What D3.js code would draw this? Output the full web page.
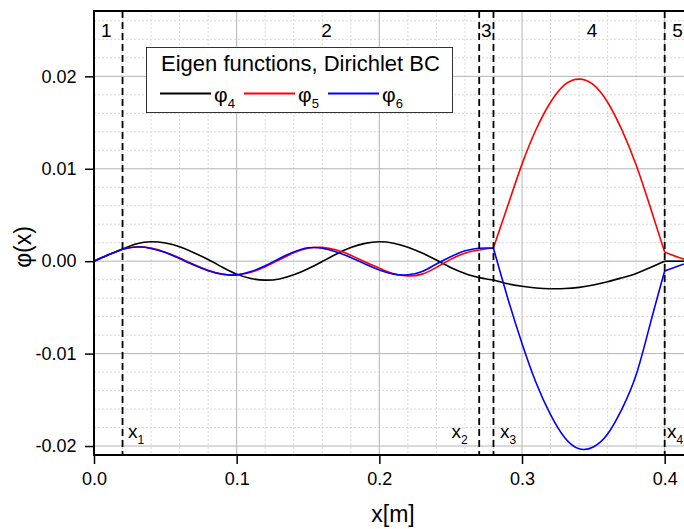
<!DOCTYPE html>
<html>
<head>
<meta charset="utf-8">
<script src="https://cdn.jsdelivr.net/npm/d3@7"></script>
<style>
  body { margin: 0; background: #fff; }
  svg { display: block; font-family: "Liberation Sans", Arial, sans-serif; }
</style>
</head>
<body>
<svg id="chart" width="684" height="529"></svg>
<script>
// sample positions along x [m]
const xs = [0, 0.01, 0.02, 0.03, 0.04, 0.05, 0.06, 0.07, 0.08, 0.09,
  0.10, 0.11, 0.12, 0.13, 0.14, 0.15, 0.16, 0.17, 0.18, 0.19,
  0.20, 0.21, 0.22, 0.23, 0.24, 0.25, 0.26, 0.27, 0.275, 0.28,
  0.29, 0.30, 0.31, 0.32, 0.33, 0.34, 0.35, 0.36, 0.37, 0.38,
  0.39, 0.40, 0.41, 0.42];

// eigen functions
const phi4 = [0, 0.00068, 0.00132, 0.00188, 0.00210, 0.00196, 0.00155, 0.00092, 0.00018, -0.00065,
  -0.00140, -0.00188, -0.00205, -0.00192, -0.00148, -0.00082, -0.00003, 0.00078, 0.00147, 0.00193,
  0.00210, 0.00195, 0.00152, 0.00088, 0.00012, -0.00068, -0.00132, -0.00178, -0.00192, -0.00203,
  -0.00245, -0.00272, -0.00290, -0.00298, -0.00296, -0.00283, -0.00258, -0.00222, -0.00180, -0.00133,
  -0.00068, 0.00000, 0.00000, 0.00000];

const phi5 = [0, 0.00070, 0.00130, 0.00156, 0.00141, 0.00098, 0.00035, -0.00035, -0.00098, -0.00140,
  -0.00149, -0.00120, -0.00060, 0.00016, 0.00090, 0.00140, 0.00149, 0.00120, 0.00065, -0.00008,
  -0.00075, -0.00136, -0.00160, -0.00140, -0.00067, 0.00020, 0.00087, 0.00121, 0.00134, 0.00146,
  0.0060, 0.0105, 0.0143, 0.0172, 0.0191, 0.0197, 0.0191, 0.0172, 0.0142, 0.0104,
  0.0058, 0.00096, 0.00040, -0.00010];

const phi6 = [0, 0.00070, 0.00130, 0.00153, 0.00138, 0.00093, 0.00028, -0.00042, -0.00103, -0.00142,
  -0.00148, -0.00112, -0.00050, 0.00030, 0.00100, 0.00145, 0.00140, 0.00100, 0.00040, -0.00030,
  -0.00095, -0.00140, -0.00148, -0.00112, -0.00030, 0.00048, 0.00112, 0.00140, 0.00142, 0.00140,
  -0.0040, -0.0089, -0.0132, -0.0166, -0.0191, -0.0203, -0.0201, -0.0187, -0.0160, -0.0123,
  -0.0067, -0.00106, -0.00050, 0.00005];

const seriesNames = ["4", "5", "6"];
const seriesColors = ["#000000", "#ff0000", "#0000ff"];

// layer interfaces x1..x4 and region numbers
const interfaces = [0.02, 0.27, 0.28, 0.40];
const interfaceNames = ["1", "2", "3", "4"];
const interfaceLabelX = [0.0238, 0.2505, 0.2846, 0.4016];
const regionNames = ["1", "2", "3", "4", "5"];
const regionLabelX = [0.0087, 0.163, 0.275, 0.349, 0.409];

const xMajor = [0, 0.1, 0.2, 0.3, 0.4];
const yMajor = [-0.02, -0.01, 0, 0.01, 0.02];

const svg = d3.select("#chart");
const plotLeft = 94, plotTop = 11, plotBottom = 455, plotRight = 684;

const x = d3.scaleLinear().domain([0, 0.42]).range([plotLeft, plotLeft + 0.42 * 1426.7]);
const y = d3.scaleLinear().domain([-0.02097, 0.02707]).range([plotBottom, plotTop]);

const xMinor = d3.range(0, 0.421, 0.02).filter(v => xMajor.every(m => Math.abs(m - v) > 1e-6));
const yMinor = d3.range(-0.02, 0.0271, 0.002).filter(v => yMajor.every(m => Math.abs(m - v) > 1e-6));

// origin-style labels use a plain hyphen for minus
const fmt = p => d => d3.format(p)(d).replace("\u2212", "-");

svg.append("clipPath").attr("id", "plot-clip")
  .append("rect")
    .attr("x", plotLeft).attr("y", plotTop)
    .attr("width", plotRight - plotLeft).attr("height", plotBottom - plotTop);

// grid
const grid = svg.append("g").attr("clip-path", "url(#plot-clip)");
grid.selectAll(".vminor").data(xMinor).enter().append("line")
  .attr("x1", d => x(d)).attr("x2", d => x(d))
  .attr("y1", plotTop).attr("y2", plotBottom)
  .attr("stroke", "#d8d8d8").attr("stroke-dasharray", "2,2");
grid.selectAll(".hminor").data(yMinor).enter().append("line")
  .attr("x1", plotLeft).attr("x2", plotRight)
  .attr("y1", d => y(d)).attr("y2", d => y(d))
  .attr("stroke", "#d8d8d8").attr("stroke-dasharray", "2,2");
grid.selectAll(".vmajor").data(xMajor.slice(1)).enter().append("line")
  .attr("x1", d => x(d)).attr("x2", d => x(d))
  .attr("y1", plotTop).attr("y2", plotBottom)
  .attr("stroke", "#b4b4b4");
grid.selectAll(".hmajor").data(yMajor).enter().append("line")
  .attr("x1", plotLeft).attr("x2", plotRight)
  .attr("y1", d => y(d)).attr("y2", d => y(d))
  .attr("stroke", "#b4b4b4");

// curves, drawn region by region so the kinks at the interfaces stay sharp
const edges = [0].concat(interfaces, [0.42]);
const line = d3.line()
  .x(d => x(d[0]))
  .y(d => y(d[1]))
  .curve(d3.curveNatural);

const curves = svg.append("g").attr("clip-path", "url(#plot-clip)");
[phi4, phi5, phi6].forEach((vals, i) => {
  const pts = xs.map((xv, k) => [xv, vals[k]]);
  for (let r = 0; r < edges.length - 1; r++) {
    const seg = pts.filter(p => p[0] >= edges[r] - 1e-9 && p[0] <= edges[r + 1] + 1e-9);
    curves.append("path")
      .attr("d", line(seg))
      .attr("fill", "none")
      .attr("stroke", seriesColors[i])
      .attr("stroke-width", 1.6);
  }
});

// interface lines
svg.selectAll(".iface").data(interfaces).enter().append("line")
  .attr("x1", d => x(d)).attr("x2", d => x(d))
  .attr("y1", plotTop).attr("y2", plotBottom)
  .attr("stroke", "#000").attr("stroke-width", 1.8)
  .attr("stroke-dasharray", "7,4");

// x_i labels
const ilab = svg.selectAll(".ilab").data(interfaceNames).enter().append("text")
  .attr("x", (d, i) => x(interfaceLabelX[i]))
  .attr("y", 438)
  .attr("font-size", 19);
ilab.append("tspan").text("x");
ilab.append("tspan").attr("dy", 6).attr("font-size", 12).text(d => d);

// region numbers
svg.selectAll(".rlab").data(regionNames).enter().append("text")
  .attr("x", (d, i) => x(regionLabelX[i]))
  .attr("y", 37)
  .attr("text-anchor", "middle")
  .attr("font-size", 19)
  .text(d => d);

// axes
const xAxisG = svg.append("g").attr("transform", `translate(0,${plotBottom})`);
xAxisG.call(d3.axisBottom(x).tickValues(xMinor).tickSize(5).tickFormat(""));
xAxisG.call(d3.axisBottom(x).tickValues(xMajor).tickSize(9).tickFormat(fmt(".1f")));
const yAxisG = svg.append("g").attr("transform", `translate(${plotLeft},0)`);
yAxisG.call(d3.axisLeft(y).tickValues(yMinor).tickSize(5).tickFormat(""));
yAxisG.call(d3.axisLeft(y).tickValues(yMajor).tickSize(9).tickFormat(fmt(".2f")));
svg.selectAll(".domain").remove();
svg.selectAll(".tick line").attr("stroke", "#000").attr("stroke-width", 1.5);
xAxisG.selectAll("text").attr("font-size", 18).attr("fill", "#000").attr("dy", "1.0em");
yAxisG.selectAll("text").attr("font-size", 18).attr("fill", "#000").attr("dx", "-0.3em");
svg.selectAll("g").attr("font-family", null);

// frame
svg.append("path")
  .attr("d", `M${plotRight},${plotTop}H${plotLeft}V${plotBottom}H${plotRight}`)
  .attr("fill", "none").attr("stroke", "#000").attr("stroke-width", 2);

// axis titles
svg.append("text")
  .attr("x", 393).attr("y", 522)
  .attr("text-anchor", "middle")
  .attr("font-size", 23)
  .text("x[m]");
svg.append("text")
  .attr("transform", "translate(31,247) rotate(-90)")
  .attr("text-anchor", "middle")
  .attr("font-size", 23)
  .text("φ(x)");

// legend
const lg = svg.append("g");
lg.append("rect")
  .attr("x", 146.5).attr("y", 47.5)
  .attr("width", 306).attr("height", 65)
  .attr("fill", "#fff").attr("stroke", "#333").attr("stroke-width", 1);
lg.append("text")
  .attr("x", 161).attr("y", 71)
  .attr("font-size", 22)
  .text("Eigen functions, Dirichlet BC");
const legendX = [160, 244, 328];
seriesNames.forEach((name, i) => {
  lg.append("line")
    .attr("x1", legendX[i]).attr("x2", legendX[i] + 51)
    .attr("y1", 93.5).attr("y2", 93.5)
    .attr("stroke", seriesColors[i]).attr("stroke-width", 1.8);
  const t = lg.append("text")
    .attr("x", legendX[i] + 54).attr("y", 102)
    .attr("font-size", 21);
  t.append("tspan").text("φ");
  t.append("tspan").attr("dy", 6).attr("font-size", 13).text(name);
});
</script>
</body>
</html>
